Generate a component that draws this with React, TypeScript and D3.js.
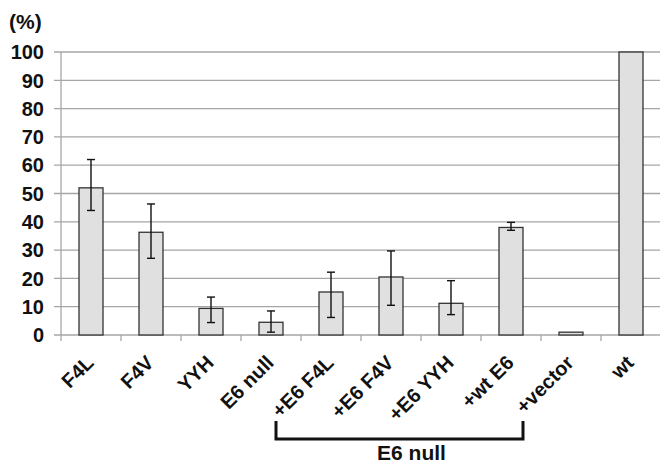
import React, { useEffect, useRef } from 'react';
import * as d3 from 'd3';

const categories = ['F4L', 'F4V', 'YYH', 'E6 null', '+E6 F4L', '+E6 F4V', '+E6 YYH', '+wt E6', '+vector', 'wt'];
const values = [52, 36.3, 9.4, 4.5, 15.2, 20.5, 11.2, 38, 1, 100];
const errUp = [10, 10, 4, 4, 7, 9.2, 8, 1.8, 0, 0];
const errDown = [8, 9.2, 5, 3.5, 9, 10, 4, 1, 0, 0];
const yTicks = [0, 10, 20, 30, 40, 50, 60, 70, 80, 90, 100];
const groupLabel = 'E6 null';
const groupFrom = '+E6 F4L';
const groupTo = '+vector';

const App = () => {
  const ref = useRef<SVGSVGElement>(null);

  useEffect(() => {
    const width = 660;
    const height = 466;
    const svg = d3.select(ref.current);
    svg.selectAll('*').remove();
    svg.attr('width', width).attr('height', height);

    const font = 'Arial, "Liberation Sans", sans-serif';
    const left = 61;
    const right = 661;
    const top = 52;
    const bottom = 335;

    const x = d3.scaleBand().domain(categories).range([left, right]).paddingInner(0.6).paddingOuter(0.3);
    const y = d3.scaleLinear().domain([0, 100]).range([bottom, top]);
    const band = (right - left) / categories.length;
    const cx = (c: string) => x(c)! + x.bandwidth() / 2;

    // grid + left ticks
    svg.append('g')
      .selectAll('line')
      .data(yTicks)
      .enter()
      .append('line')
      .attr('x1', left - 7)
      .attr('x2', width)
      .attr('y1', d => y(d))
      .attr('y2', d => y(d))
      .attr('stroke', '#a6a6a6')
      .attr('stroke-width', 1.3);

    svg.append('line')
      .attr('x1', left).attr('x2', left)
      .attr('y1', top).attr('y2', bottom)
      .attr('stroke', '#a6a6a6').attr('stroke-width', 1.3);

    // bottom ticks between categories
    svg.append('g')
      .selectAll('line')
      .data(d3.range(categories.length + 1))
      .enter()
      .append('line')
      .attr('x1', i => left + i * band)
      .attr('x2', i => left + i * band)
      .attr('y1', bottom)
      .attr('y2', bottom + 6)
      .attr('stroke', '#a6a6a6')
      .attr('stroke-width', 1.3);

    // y labels
    svg.append('g')
      .selectAll('text')
      .data(yTicks)
      .enter()
      .append('text')
      .attr('x', 44)
      .attr('y', d => y(d))
      .attr('dy', '0.36em')
      .attr('text-anchor', 'end')
      .style('font-family', font)
      .style('font-weight', 'bold')
      .style('font-size', '20px')
      .style('fill', '#111')
      .text(d => d);

    svg.append('text')
      .attr('x', 9)
      .attr('y', 29)
      .style('font-family', font)
      .style('font-weight', 'bold')
      .style('font-size', '21px')
      .style('fill', '#111')
      .text('(%)');

    // bars
    svg.append('g')
      .selectAll('rect')
      .data(values)
      .enter()
      .append('rect')
      .attr('x', (d, i) => x(categories[i])!)
      .attr('y', d => y(d))
      .attr('width', x.bandwidth())
      .attr('height', d => bottom - y(d))
      .attr('fill', '#e0e0e0')
      .attr('stroke', '#333')
      .attr('stroke-width', 1.3);

    // error bars
    const eb = svg.append('g')
      .selectAll('g')
      .data(values.map((v, i) => ({ v, i })).filter(d => errUp[d.i] > 0 || errDown[d.i] > 0))
      .enter()
      .append('g')
      .attr('stroke', '#111')
      .attr('stroke-width', 1.4);
    eb.append('line')
      .attr('x1', d => cx(categories[d.i])).attr('x2', d => cx(categories[d.i]))
      .attr('y1', d => y(d.v + errUp[d.i])).attr('y2', d => y(d.v - errDown[d.i]));
    eb.append('line')
      .attr('x1', d => cx(categories[d.i]) - 4).attr('x2', d => cx(categories[d.i]) + 4)
      .attr('y1', d => y(d.v + errUp[d.i])).attr('y2', d => y(d.v + errUp[d.i]));
    eb.append('line')
      .attr('x1', d => cx(categories[d.i]) - 4).attr('x2', d => cx(categories[d.i]) + 4)
      .attr('y1', d => y(d.v - errDown[d.i])).attr('y2', d => y(d.v - errDown[d.i]));

    // x labels
    svg.append('g')
      .selectAll('text')
      .data(categories)
      .enter()
      .append('text')
      .attr('transform', d => `translate(${cx(d) + 4},${364}) rotate(-45)`)
      .attr('text-anchor', 'end')
      .style('font-family', font)
      .style('font-weight', 'bold')
      .style('font-size', '20px')
      .style('fill', '#111')
      .text(d => d);

    // group bracket
    const bx1 = cx(groupFrom) - 55;
    const bx2 = cx(groupTo) - 48;
    svg.append('path')
      .attr('d', `M${bx1},421V439H${bx2}V421`)
      .attr('fill', 'none')
      .attr('stroke', '#111')
      .attr('stroke-width', 3);

    svg.append('text')
      .attr('x', (bx1 + bx2) / 2 + 12)
      .attr('y', 460)
      .attr('text-anchor', 'middle')
      .style('font-family', font)
      .style('font-weight', 'bold')
      .style('font-size', '21px')
      .style('fill', '#111')
      .text(groupLabel);
  }, []);

  return <svg ref={ref} style={{ position: 'absolute', left: 0, top: 0, background: '#fff' }} />;
};

export default App;
